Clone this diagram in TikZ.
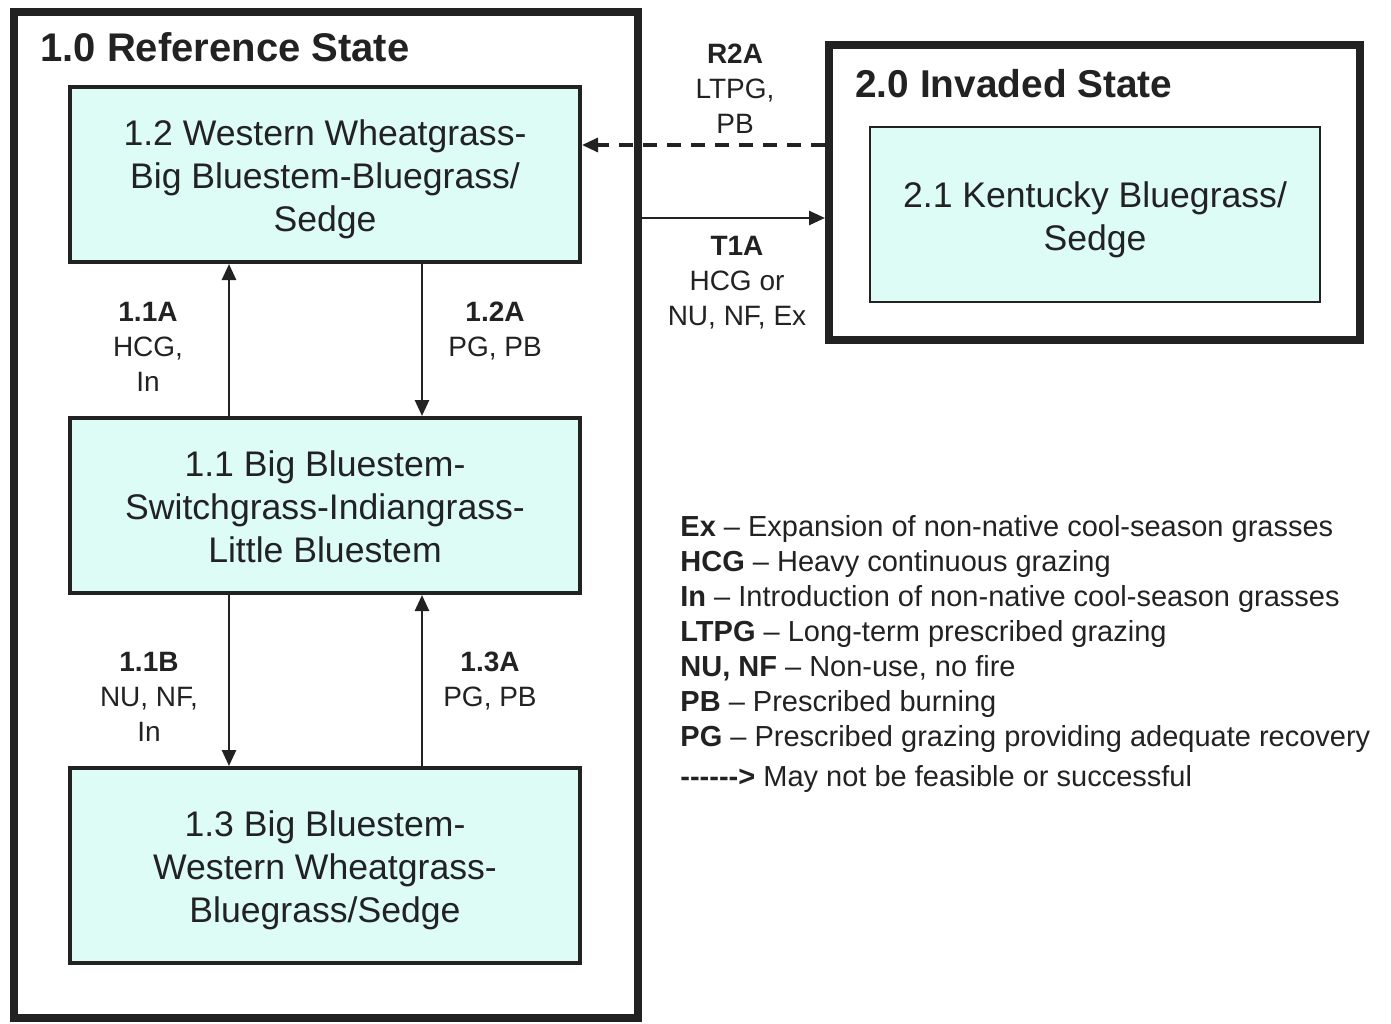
\documentclass[tikz,border=0pt]{standalone}
\usepackage{fontspec}
\setmainfont{Liberation Sans}
\usetikzlibrary{arrows.meta}
\definecolor{boxfill}{RGB}{221,252,246}
\definecolor{ink}{RGB}{34,34,34}
\newcommand\fstrtop{\rule{0pt}{18.5pt}}
\newcommand\fstrbot{\rule[-4.5pt]{0pt}{0pt}}
\begin{document}
\begin{tikzpicture}[x=0.5pt,y=-0.5pt,
  every node/.style={text=ink},
  statebox/.style={draw=ink, line width=2pt, fill=boxfill, align=center,
    minimum width=255pt, minimum height=87.5pt, inner sep=0pt,
    font=\fontsize{17.8}{21.5}\selectfont},
  frame/.style={draw=ink, line width=4pt, inner sep=0pt},
  title/.style={anchor=west, inner sep=0pt, font=\bfseries\fontsize{20}{24}\selectfont},
  lbl/.style={align=center, inner sep=0pt, font=\fontsize{14}{17.5}\selectfont},
  arr/.style={draw=ink, line width=1.3pt, -{Triangle[width=7pt,length=8pt]}},
  darr/.style={arr, line width=1.6pt, dash pattern=on 7pt off 5pt}
]
\useasboundingbox (0,0) rectangle (1391,1023);
\fill[white] (0,0) rectangle (1391,1023);

% state frames
\node[frame, minimum width=312pt, minimum height=503pt] (ref) at (326,515) {};
\node[frame, minimum width=265.5pt, minimum height=147.5pt] (inv) at (1094.5,192.5) {};
\node[title] (t1) at (40,47) {1.0 Reference State};
\node[title, font=\bfseries\fontsize{19.4}{24}\selectfont] (t2) at (855,84) {2.0 Invaded State};

% community phases
\node[statebox] (b12) at (325,174.5) {\fstrtop 1.2 Western Wheatgrass-\\Big Bluestem-Bluegrass/\\Sedge\fstrbot};
\node[statebox] (b11) at (325,505.5) {\fstrtop 1.1 Big Bluestem-\\Switchgrass-Indiangrass-\\Little Bluestem\fstrbot};
\node[statebox, minimum height=97.5pt] (b13) at (325,865.5) {\fstrtop 1.3 Big Bluestem-\\Western Wheatgrass-\\Bluegrass/Sedge\fstrbot};
\node[statebox, line width=1pt, minimum width=225pt] (b21) at (1095,214.5) {\fstrtop 2.1 Kentucky Bluegrass/\\Sedge\fstrbot};

% transitions within state 1
\draw[arr] ([xshift=-48pt]b11.north) -- ([xshift=-48pt]b12.south);
\draw[arr] ([xshift=48.5pt]b12.south) -- ([xshift=48.5pt]b11.north);
\draw[arr] ([xshift=-48pt]b11.south) -- ([xshift=-48pt]b13.north);
\draw[arr] ([xshift=48.5pt]b13.north) -- ([xshift=48.5pt]b11.south);

% transitions between states
\coordinate (ydash) at (0,145);
\coordinate (ysol) at (0,218);
\draw[darr] (inv.west |- ydash) -- (b12.east |- ydash);
\draw[arr] (ref.east |- ysol) -- (inv.west |- ysol);

% labels
\node[lbl] (lr2a) at (735,89) {\textbf{R2A}\\LTPG,\\PB};
\node[lbl] (lt1a) at (737,283) {\textbf{T1A}\\HCG or\\NU, NF, Ex};
\node[lbl] (l11a) at (148,347) {\textbf{1.1A}\\HCG,\\In};
\node[lbl] (l12a) at (495,331.5) {\textbf{1.2A}\\PG, PB};
\node[lbl] (l11b) at (149,697) {\textbf{1.1B}\\NU, NF,\\In};
\node[lbl] (l13a) at (490,681.5) {\textbf{1.3A}\\PG, PB};

% legend
\node[anchor=north west, align=left, inner sep=0pt, font=\fontsize{14.5}{17.5}\selectfont] (legend) at (680,515) {%
\textbf{Ex} – Expansion of non-native cool-season grasses\\
\textbf{HCG} – Heavy continuous grazing\\
\textbf{In} – Introduction of non-native cool-season grasses\\
\textbf{LTPG} – Long-term prescribed grazing\\
\textbf{NU, NF} – Non-use, no fire\\
\textbf{PB} – Prescribed burning\\
\textbf{PG} – Prescribed grazing providing adequate recovery\\[2.5pt]
\textbf{-{}-{}-{}-{}-{}->} May not be feasible or successful};
\end{tikzpicture}
\end{document}
